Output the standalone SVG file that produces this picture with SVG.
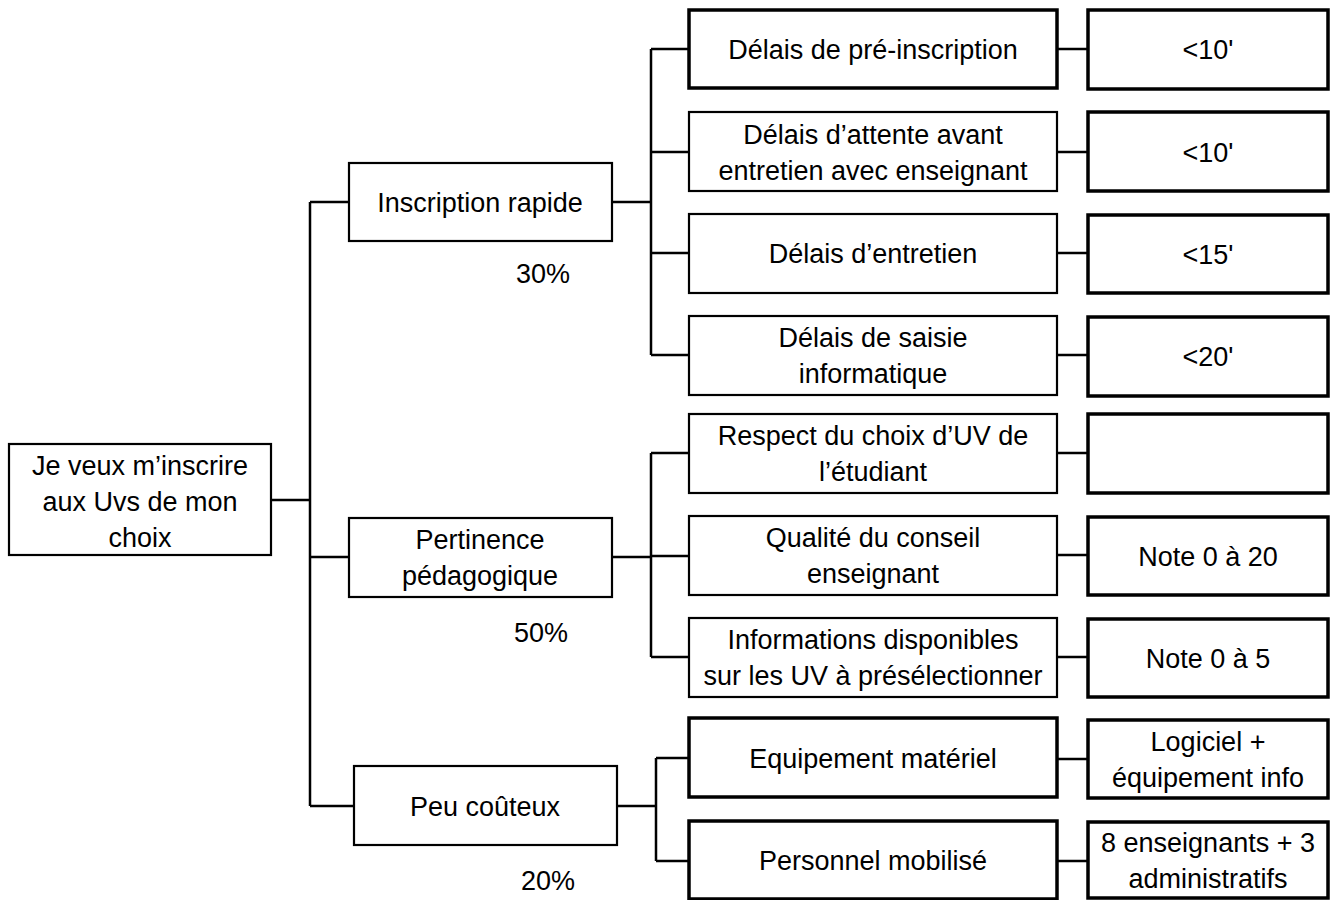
<svg xmlns="http://www.w3.org/2000/svg" width="1335" height="900" viewBox="0 0 1335 900">
<style>
.b{fill:#fff;stroke:#000;stroke-width:2.2}
.k{fill:#fff;stroke:#000;stroke-width:3.5}
.c{fill:none;stroke:#000;stroke-width:2.5}
text{font-family:"Liberation Sans",Arial,sans-serif;font-size:27px;fill:#000;text-anchor:middle}
</style>
<rect width="1335" height="900" fill="#fff"/>
<g id="connectors">
<path class="c" d="M271 500H310M310 202V806M310 202H349M310 557H349M310 806H354"/>
<path class="c" d="M612 202H651M651 49V355M651 49H689M651 152H689M651 253H689M651 355H689"/>
<path class="c" d="M612 557H651M651 453V657M651 453H689M651 556H689M651 657H689"/>
<path class="c" d="M617 806H656M656 758V861M656 758H689M656 861H689"/>
<path class="c" d="M1057 49H1088M1057 152H1088M1057 253H1088M1057 355H1088M1057 453H1088M1057 555H1088M1057 657H1088M1057 759H1088M1057 861H1088"/>
</g>
<g id="root"><rect class="b" x="9" y="444" width="262" height="111"/><text x="140" y="475">Je veux m’inscrire</text><text x="140" y="511">aux Uvs de mon</text><text x="140" y="547">choix</text></g>
<g id="inscription"><rect class="b" x="349" y="163" width="263" height="78"/><text x="480" y="212">Inscription rapide</text></g>
<text x="543" y="283">30%</text>
<g id="pertinence"><rect class="b" x="349" y="518" width="263" height="79"/><text x="480" y="549">Pertinence</text><text x="480" y="585">pédagogique</text></g>
<text x="541" y="642">50%</text>
<g id="peu"><rect class="b" x="354" y="766" width="263" height="79"/><text x="485" y="816">Peu coûteux</text></g>
<text x="548" y="890">20%</text>
<g id="d1"><rect class="k" x="689" y="10" width="368" height="78"/><text x="873" y="59">Délais de pré-inscription</text></g>
<g id="d2"><rect class="b" x="689" y="112" width="368" height="79"/><text x="873" y="144">Délais d’attente avant</text><text x="873" y="180">entretien avec enseignant</text></g>
<g id="d3"><rect class="b" x="689" y="214" width="368" height="79"/><text x="873" y="263">Délais d’entretien</text></g>
<g id="d4"><rect class="b" x="689" y="316" width="368" height="79"/><text x="873" y="347">Délais de saisie</text><text x="873" y="383">informatique</text></g>
<g id="p1"><rect class="b" x="689" y="414" width="368" height="79"/><text x="873" y="445">Respect du choix d’UV de</text><text x="873" y="481">l’étudiant</text></g>
<g id="p2"><rect class="b" x="689" y="516" width="368" height="79"/><text x="873" y="547">Qualité du conseil</text><text x="873" y="583">enseignant</text></g>
<g id="p3"><rect class="b" x="689" y="618" width="368" height="79"/><text x="873" y="649">Informations disponibles</text><text x="873" y="685">sur les UV à présélectionner</text></g>
<g id="c1"><rect class="k" x="689" y="718" width="368" height="79"/><text x="873" y="768">Equipement matériel</text></g>
<g id="c2"><rect class="k" x="689" y="821" width="368" height="78"/><text x="873" y="870">Personnel mobilisé</text></g>
<g id="r1"><rect class="k" x="1088" y="10" width="240" height="79"/><text x="1208" y="59">&lt;10'</text></g>
<g id="r2"><rect class="k" x="1088" y="112" width="240" height="79"/><text x="1208" y="162">&lt;10'</text></g>
<g id="r3"><rect class="k" x="1088" y="215" width="240" height="78"/><text x="1208" y="264">&lt;15'</text></g>
<g id="r4"><rect class="k" x="1088" y="317" width="240" height="79"/><text x="1208" y="366">&lt;20'</text></g>
<g id="r5"><rect class="k" x="1088" y="414" width="240" height="79"/></g>
<g id="r6"><rect class="k" x="1088" y="517" width="240" height="78"/><text x="1208" y="566">Note 0 à 20</text></g>
<g id="r7"><rect class="k" x="1088" y="619" width="240" height="78"/><text x="1208" y="668">Note 0 à 5</text></g>
<g id="r8"><rect class="k" x="1088" y="720" width="240" height="78"/><text x="1208" y="751">Logiciel +</text><text x="1208" y="787">équipement info</text></g>
<g id="r9"><rect class="k" x="1088" y="822" width="240" height="76"/><text x="1208" y="852">8 enseignants + 3</text><text x="1208" y="888">administratifs</text></g>
</svg>
